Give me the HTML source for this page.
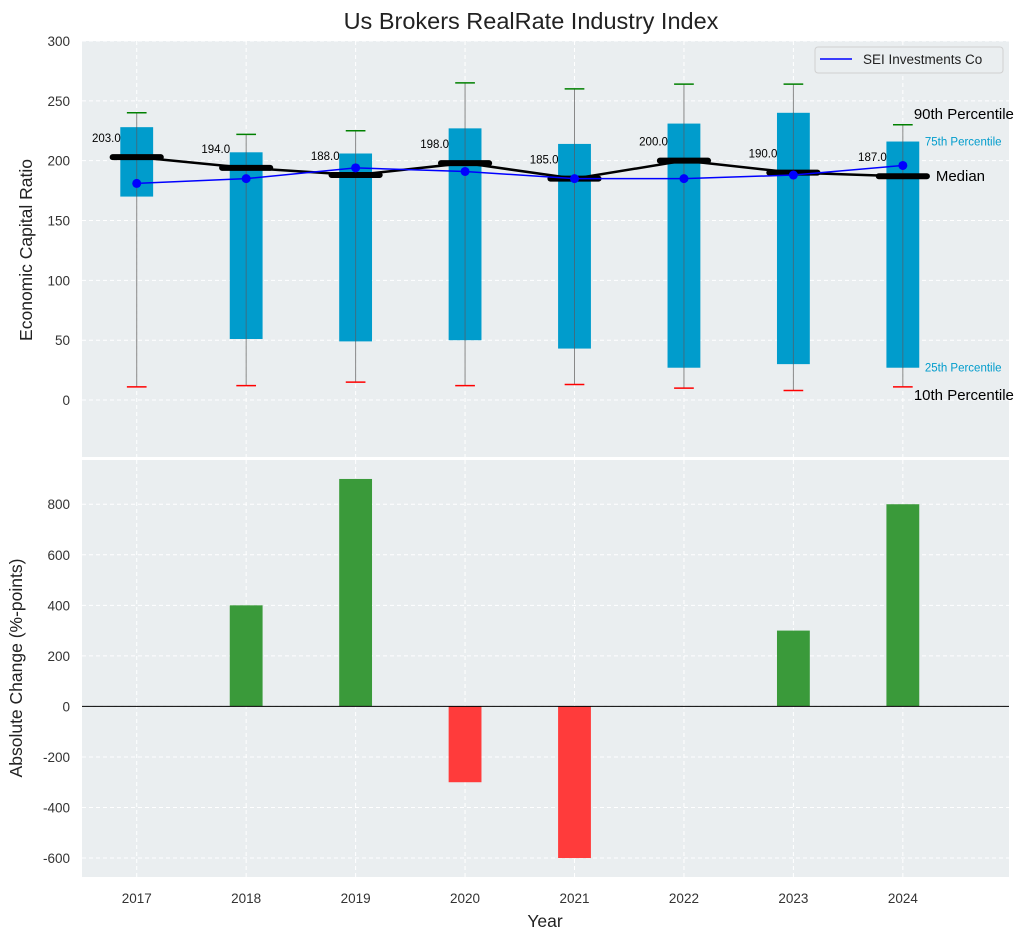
<!DOCTYPE html>
<html><head><meta charset="utf-8"><style>
body{margin:0;background:#fff;font-family:"Liberation Sans",sans-serif}
svg text{font-family:"Liberation Sans",sans-serif}
</style></head><body>
<svg id="c" width="1034" height="940" xmlns="http://www.w3.org/2000/svg"></svg>
<script>
const years=[2017,2018,2019,2020,2021,2022,2023,2024];
const p10=[11,12,15,12,13,10,8,11];
const p25=[170,51,49,50,43,27,30,27];
const medians=[203,194,188,198,185,200,190,187];
const p75=[228,207,206,227,214,231,240,216];
const p90=[240,222,225,265,260,264,264,230];
const company=[181,185,194,191,185,185,188,196];
const changes=[0,400,900,-300,-600,0,300,800];
const topTicks=[0,50,100,150,200,250,300];
const botTicks=[-600,-400,-200,0,200,400,600,800];

const S=document.getElementById('c');const NS='http://www.w3.org/2000/svg';
function el(t,a,p){const e=document.createElementNS(NS,t);for(const k in a)e.setAttribute(k,a[k]);(p||S).appendChild(e);return e;}
const L=82,R=1009;
const X=v=>L+(v-2016.5)/(2024.97-2016.5)*(R-L);
const T0=41,T1=457;const Yt=v=>T1+(v-(-47.6))/(300+47.6)*(T0-T1);
const B0=460,B1=877;const Yb=v=>B1+(v+675)/(975+675)*(B0-B1);
let e=el('rect',{x:L,y:T0,width:R-L,height:T1-T0,fill:'#eaeef0'});

e=el('rect',{x:L,y:B0,width:R-L,height:B1-B0,fill:'#eaeef0'});

function grid(y){el('line',{x1:L,x2:R,y1:y,y2:y,stroke:'#fff','stroke-dasharray':'4,3','stroke-width':1});}
years.forEach(y=>{[[T0,T1],[B0,B1]].forEach(r=>el('line',{x1:X(y),x2:X(y),y1:r[0],y2:r[1],stroke:'#fff','stroke-dasharray':'4,3'}));
 e=el('text',{x:X(y),y:903,'text-anchor':'middle','font-size':13.5,fill:'#333'});e.textContent=y;
 });
topTicks.forEach(t=>{grid(Yt(t));e=el('text',{x:70,y:Yt(t)+5,'text-anchor':'end','font-size':13.5,fill:'#333'});e.textContent=t;
 });
botTicks.forEach(t=>{grid(Yb(t));e=el('text',{x:70,y:Yb(t)+5,'text-anchor':'end','font-size':13.5,fill:'#333'});e.textContent=t;
 });
const bw=X(0.15)-X(0),cw=X(0.09)-X(0),mw=X(0.22)-X(0);
years.forEach((y,i)=>{const x=X(y);
 e=el('line',{x1:x,x2:x,y1:Yt(p90[i]),y2:Yt(p10[i]),stroke:'#888','stroke-width':1});
 
 e=el('rect',{x:x-bw,y:Yt(p75[i]),width:2*bw,height:Yt(p25[i])-Yt(p75[i]),fill:'#009ccc'});
 
 el('line',{x1:x,x2:x,y1:Yt(p75[i]),y2:Yt(p25[i]),stroke:'#3a6f84','stroke-width':1});
 el('line',{x1:x-cw,x2:x+cw,y1:Yt(p90[i]),y2:Yt(p90[i]),stroke:'green','stroke-width':1.5});
 el('line',{x1:x-cw,x2:x+cw,y1:Yt(p10[i]),y2:Yt(p10[i]),stroke:'red','stroke-width':1.5});
});
e=el('polyline',{points:years.map((y,i)=>X(y)+','+Yt(medians[i])).join(' '),fill:'none',stroke:'#000','stroke-width':2.5});

years.forEach((y,i)=>{const x=X(y);
 e=el('line',{x1:x-mw,x2:x+mw,y1:Yt(medians[i]),y2:Yt(medians[i]),stroke:'#000','stroke-width':6,'stroke-linecap':'round'});
 
 e=el('text',{x:x-16,y:Yt(medians[i])-15,'text-anchor':'end','font-size':11.5,fill:'#000'});e.textContent=medians[i].toFixed(1);
 
});
e=el('polyline',{points:years.map((y,i)=>X(y)+','+Yt(company[i])).join(' '),fill:'none',stroke:'#0000ff','stroke-width':1.5});

years.forEach((y,i)=>{e=el('circle',{cx:X(y),cy:Yt(company[i]),r:4.5,fill:'#0000ff'});
 });
const li=years.length-1,lx=X(years[li]);
[[p90[li],'90th Percentile',15,'#000',lx+11,'percentile-90-label',-6],[p75[li],'75th Percentile',11.5,'#009ccc',lx+22,'percentile-75-label',4],[medians[li],'Median',15,'#000',lx+33,'median-annotation',5],[p25[li],'25th Percentile',11.5,'#009ccc',lx+22,'percentile-25-label',4],[p10[li],'10th Percentile',15,'#000',lx+11,'percentile-10-label',13]].forEach(a=>{
 e=el('text',{x:a[4],y:Yt(a[0])+a[6],'font-size':a[2],fill:a[3]});e.textContent=a[1];
 });
e=el('rect',{x:815,y:47,width:188,height:26,rx:3,fill:'#eaeef0',stroke:'#d0d0d0'});

el('line',{x1:820,x2:852,y1:59,y2:59,stroke:'#0000ff','stroke-width':1.5});
e=el('text',{x:863,y:64,'font-size':13.5,fill:'#222'});e.textContent='SEI Investments Co';

years.forEach((y,i)=>{const v=changes[i];if(v===0)return;const x=X(y);
 e=el('rect',{x:x-bw,y:Math.min(Yb(v),Yb(0)),width:2*bw,height:Math.abs(Yb(v)-Yb(0)),fill:v>0?'#3a9a3a':'#ff3b3b'});
 });
el('line',{x1:L,x2:R,y1:Yb(0),y2:Yb(0),stroke:'#000','stroke-width':1});
e=el('text',{x:531,y:29,'text-anchor':'middle','font-size':23.5,fill:'#222'});e.textContent='Us Brokers RealRate Industry Index';

e=el('text',{x:545,y:927,'text-anchor':'middle','font-size':17.5,fill:'#222'});e.textContent='Year';

e=el('text',{x:32,y:250,'text-anchor':'middle','font-size':17.5,fill:'#222',transform:'rotate(-90 32 250)'});e.textContent='Economic Capital Ratio';

e=el('text',{x:22,y:668,'text-anchor':'middle','font-size':17.5,fill:'#222',transform:'rotate(-90 22 668)'});e.textContent='Absolute Change (%-points)';

</script>
</body></html>
